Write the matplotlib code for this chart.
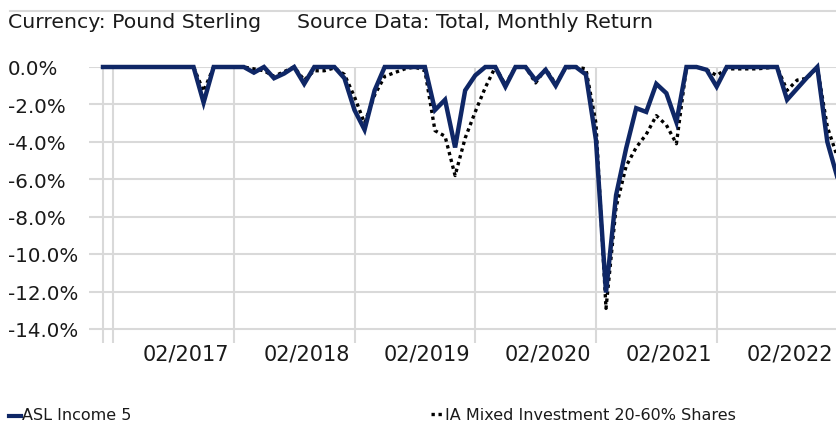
import matplotlib
matplotlib.use("Agg")
import matplotlib.pyplot as plt
import matplotlib.transforms as mtransforms
import pandas as pd

# ---- data -------------------------------------------------------------
start_month = "2016-01"
asl_income_5 = [
    0, 0, 0, 0, 0, 0, 0, 0, 0, 0,            # 2016 Jan-Oct
    -1.9, 0,                                  # Nov, Dec 2016
    0, 0, 0, -0.3, 0, -0.6, -0.35, 0, -0.9, 0, 0, 0,      # 2017
    -0.6, -2.3, -3.35, -1.25, 0, 0, 0, 0, 0, -2.3, -1.75, -4.3,  # 2018
    -1.25, -0.45, 0, 0, -1.05, 0, 0, -0.7, -0.15, -1.0, 0, 0,    # 2019
    -0.4, -3.9, -12.05, -6.85, -4.35, -2.2, -2.4, -0.9, -1.4, -2.95, 0, 0,  # 2020
    -0.15, -1.05, 0, 0, 0, 0, 0, 0, -1.75, -1.15, -0.55, 0,      # 2021
    -4.0, -5.9,                               # 2022
]
ia_mixed_20_60 = [
    0, 0, 0, 0, 0, 0, 0, 0, 0, 0,
    -1.3, 0,
    0, 0, 0, -0.1, -0.2, -0.5, -0.25, 0, -0.7, -0.2, -0.2, -0.05,
    -0.4, -1.6, -3.0, -1.5, -0.5, -0.3, -0.1, 0, -0.2, -3.4, -3.7, -5.8,
    -3.8, -2.4, -1.1, 0, -0.95, 0, 0, -0.85, -0.1, -0.9, -0.05, 0,
    -0.1, -3.0, -12.9, -7.5, -5.3, -4.3, -3.6, -2.6, -3.1, -4.1, 0, 0,
    -0.15, -0.45, -0.1, -0.1, -0.1, -0.1, -0.05, 0, -1.25, -0.7, -0.6, 0,
    -3.2, -4.8,
]
y_ticks = [0, -2, -4, -6, -8, -10, -12, -14]
series_names = ["ASL Income 5", "IA Mixed Investment 20-60% Shares"]
header_left = "Currency: Pound Sterling"
header_right = "Source Data: Total, Monthly Return"

months = pd.date_range(start_month, periods=len(asl_income_5), freq="MS")
x = list(range(len(months)))
feb_idx = [i for i, m in enumerate(months) if m.month == 2]
tick_labels = [months[i].strftime("%m/%Y") for i in feb_idx]

# ---- figure -----------------------------------------------------------
W, H = 836, 425
fig = plt.figure(figsize=(W / 100, H / 100), dpi=100)
plt.rcParams["font.family"] = ["DejaVu Sans"]

NAVY = "#0f2766"
GRID = "#d9d9d9"
TXT = "#1a1a1a"

ax_left, ax_right = 89, 836
ax_top, ax_bot = 67, 343
ax = fig.add_axes([ax_left / W, 1 - ax_bot / H, (ax_right - ax_left) / W, (ax_bot - ax_top) / H])
px_per_month = 10.06
ax.set_xlim(-(103 - ax_left) / px_per_month, (ax_right - 103) / px_per_month)
ax.set_ylim(-14 - (ax_bot - 329) / 18.71, 0)
for s in ax.spines.values():
    s.set_visible(False)
ax.set_xticks([])
ax.set_yticks([])

for yv in y_ticks:
    ax.axhline(yv, color=GRID, lw=1.5, zorder=1)
ax.axvline(0, color=GRID, lw=1.5, zorder=1)
for i in feb_idx:
    ax.axvline(i, color=GRID, lw=1.5, zorder=1)

ax.plot(x, ia_mixed_20_60, color="black", lw=2.4, linestyle=(0, (1, 1.1)),
        dash_capstyle="butt", zorder=3, clip_on=False)
ax.plot(x, asl_income_5, color=NAVY, lw=3.2, zorder=4, clip_on=False,
        solid_joinstyle="miter")

# y labels
ytr = mtransforms.blended_transform_factory(fig.transFigure, ax.transData)
for yv in y_ticks:
    ax.text(8 / W, yv - 0.15, f"{yv:.1f}%", transform=ytr, ha="left", va="center",
            fontsize=14.3, color=TXT)

# x labels (right aligned just left of Feb gridlines), skip first
xtr = mtransforms.blended_transform_factory(ax.transData, fig.transFigure)
for i, lab in zip(feb_idx[1:], tick_labels[1:]):
    ax.text(i - 0.45, 1 - 355 / H, lab, transform=xtr, ha="right", va="center",
            fontsize=15, color=TXT, clip_on=False)

# header
fig.add_artist(plt.Line2D([10 / W, 1], [1 - 11 / H] * 2, color=GRID, lw=1.5))
fig.text(8 / W, 1 - 23 / H, header_left, ha="left", va="center", fontsize=14.7, color=TXT)
fig.text(297 / W, 1 - 23 / H, header_right, ha="left", va="center", fontsize=14.7, color=TXT)

# legend
ly = 1 - 416 / H
fig.add_artist(plt.Line2D([9 / W, 21 / W], [ly, ly], color=NAVY, lw=3.0))
fig.text(22 / W, ly, series_names[0], ha="left", va="center", fontsize=11.5, color=TXT)
fig.add_artist(plt.Line2D([431 / W, 444 / W], [ly + 0.004, ly + 0.004], color="black", lw=2.4,
                          linestyle=(0, (1, 1.1)), dash_capstyle="butt"))
fig.text(445 / W, ly, series_names[1], ha="left", va="center", fontsize=11.5, color=TXT)

fig.savefig("out.png", dpi=100)
